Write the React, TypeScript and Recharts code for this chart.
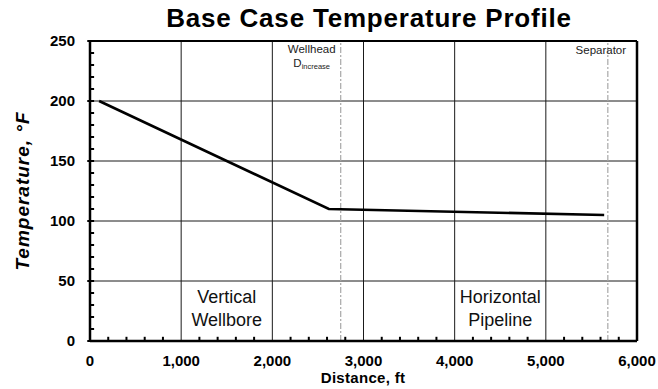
import React from 'react';
import { LineChart, Line, XAxis, YAxis, CartesianGrid, ReferenceLine } from 'recharts';

// Temperature profile along the flow path (wellbore, then horizontal pipeline)
const distanceFt = [100, 2620, 5640];
const temperatureF = [200, 110, 105];

// Axis ticks
const xTicks = [0, 1000, 2000, 3000, 4000, 5000, 6000];
const yTicks = [0, 50, 100, 150, 200, 250];
const xMinorTicks = [200, 400, 600, 800, 1200, 1400, 1600, 1800, 2200, 2400, 2600, 2800, 3200, 3400, 3600, 3800, 4200, 4400, 4600, 4800, 5200, 5400, 5600, 5800];
const yMinorTicks = [10, 20, 30, 40, 60, 70, 80, 90, 110, 120, 130, 140, 160, 170, 180, 190, 210, 220, 230, 240];

// Marker locations along the path
const wellheadFt = 2750;
const separatorFt = 5680;

const chartData = distanceFt.map((d, i) => ({ distance: d, temp: temperatureF[i] }));

const FONT = '"Liberation Sans", Arial, Helvetica, sans-serif';

const XTick = (props: any) => {
  const { x, y, payload } = props;
  return (
    <text x={x} y={y} dy={11} textAnchor="middle" fontFamily={FONT} fontWeight="bold" fontSize={15} fill="#000">
      {Number(payload.value).toLocaleString('en-US')}
    </text>
  );
};

const YTick = (props: any) => {
  const { x, y, payload } = props;
  return (
    <text x={x} y={y} dy={5} textAnchor="end" fontFamily={FONT} fontWeight="bold" fontSize={15} fill="#000">
      {payload.value}
    </text>
  );
};

const WellheadLabel = (props: any) => {
  const { viewBox } = props;
  const cx = viewBox.x - 29;
  const top = viewBox.y;
  return (
    <g fontFamily={FONT} fill="#222">
      <text x={cx} y={top + 12} textAnchor="middle" fontSize={11.5}>Wellhead</text>
      <text x={cx} y={top + 26} textAnchor="middle" fontSize={11.5}>
        D<tspan fontSize={7.5} dy={2}>increase</tspan>
      </text>
    </g>
  );
};

const SeparatorLabel = (props: any) => {
  const { viewBox } = props;
  return (
    <text x={viewBox.x - 7} y={viewBox.y + 13} textAnchor="middle" fontFamily={FONT} fontSize={11.5} fill="#222">
      Separator
    </text>
  );
};

const RegionLabel = (lines: string[]) => (props: any) => {
  const { viewBox } = props;
  const bottom = viewBox.y + viewBox.height;
  return (
    <g fontFamily={FONT} fontSize={18} fill="#111">
      <text x={viewBox.x} y={bottom - 38} textAnchor="middle">{lines[0]}</text>
      <text x={viewBox.x} y={bottom - 15} textAnchor="middle">{lines[1]}</text>
    </g>
  );
};

export default function App() {
  return (
    <div style={{ position: 'absolute', left: 0, top: 0, width: 658, height: 389, background: '#fff' }}>
      <LineChart width={658} height={389} data={chartData} margin={{ top: 41, right: 21, bottom: 0, left: 0 }}>
        <CartesianGrid stroke="#1a1a1a" strokeWidth={1} />
        <XAxis
          dataKey="distance"
          type="number"
          domain={[0, 6000]}
          ticks={xTicks}
          height={48}
          tickSize={0}
          tickMargin={14}
          tick={<XTick />}
          axisLine={{ stroke: '#000', strokeWidth: 2.5 }}
          tickLine={false}
          interval={0}
        />
        <YAxis
          type="number"
          domain={[0, 250]}
          ticks={yTicks}
          width={90}
          tickSize={0}
          tickMargin={15}
          tick={<YTick />}
          axisLine={{ stroke: '#000', strokeWidth: 2.5 }}
          tickLine={false}
          interval={0}
        />
        {/* plot frame: top and right edges */}
        <ReferenceLine y={250} stroke="#000" strokeWidth={2} />
        <ReferenceLine x={6000} stroke="#000" strokeWidth={2.5} />

        {/* minor tick marks pointing into the plot */}
        {xMinorTicks.map((v) => (
          <ReferenceLine key={'xm' + v} segment={[{ x: v, y: 0 }, { x: v, y: 3.5 }]} stroke="#000" strokeWidth={2} ifOverflow="visible" />
        ))}
        {yMinorTicks.map((v) => (
          <ReferenceLine key={'ym' + v} segment={[{ x: 0, y: v }, { x: 45, y: v }]} stroke="#000" strokeWidth={2} ifOverflow="visible" />
        ))}
        {yTicks.map((v) => (
          <ReferenceLine key={'yM' + v} segment={[{ x: -30, y: v }, { x: 45, y: v }]} stroke="#000" strokeWidth={2} ifOverflow="visible" />
        ))}

        {/* wellhead and separator markers */}
        <ReferenceLine x={wellheadFt} stroke="#a8a8a8" strokeWidth={1.2} strokeDasharray="6 2 2 2" label={<WellheadLabel />} />
        <ReferenceLine x={separatorFt} stroke="#a8a8a8" strokeWidth={1.2} strokeDasharray="6 2 2 2" label={<SeparatorLabel />} />

        {/* section names */}
        <ReferenceLine x={1500} stroke="none" label={RegionLabel(['Vertical', 'Wellbore'])} />
        <ReferenceLine x={4500} stroke="none" label={RegionLabel(['Horizontal', 'Pipeline'])} />

        <Line
          dataKey="temp"
          type="linear"
          stroke="#000"
          strokeWidth={2.6}
          dot={false}
          isAnimationActive={false}
        />

        <text x={369} y={27} textAnchor="middle" fontFamily={FONT} fontWeight="bold" fontSize={26} letterSpacing={0.8} fill="#000">
          Base Case Temperature Profile
        </text>
        <text x={363} y={383} textAnchor="middle" fontFamily={FONT} fontWeight="bold" fontSize={15} letterSpacing={0.3} fill="#000">
          Distance, ft
        </text>
        <text
          x={0}
          y={0}
          transform="translate(29, 191) rotate(-90)"
          textAnchor="middle"
          fontFamily={FONT}
          fontWeight="bold"
          fontStyle="italic"
          fontSize={19}
          letterSpacing={1}
          fill="#000"
        >
          Temperature, °F
        </text>
      </LineChart>
    </div>
  );
}
